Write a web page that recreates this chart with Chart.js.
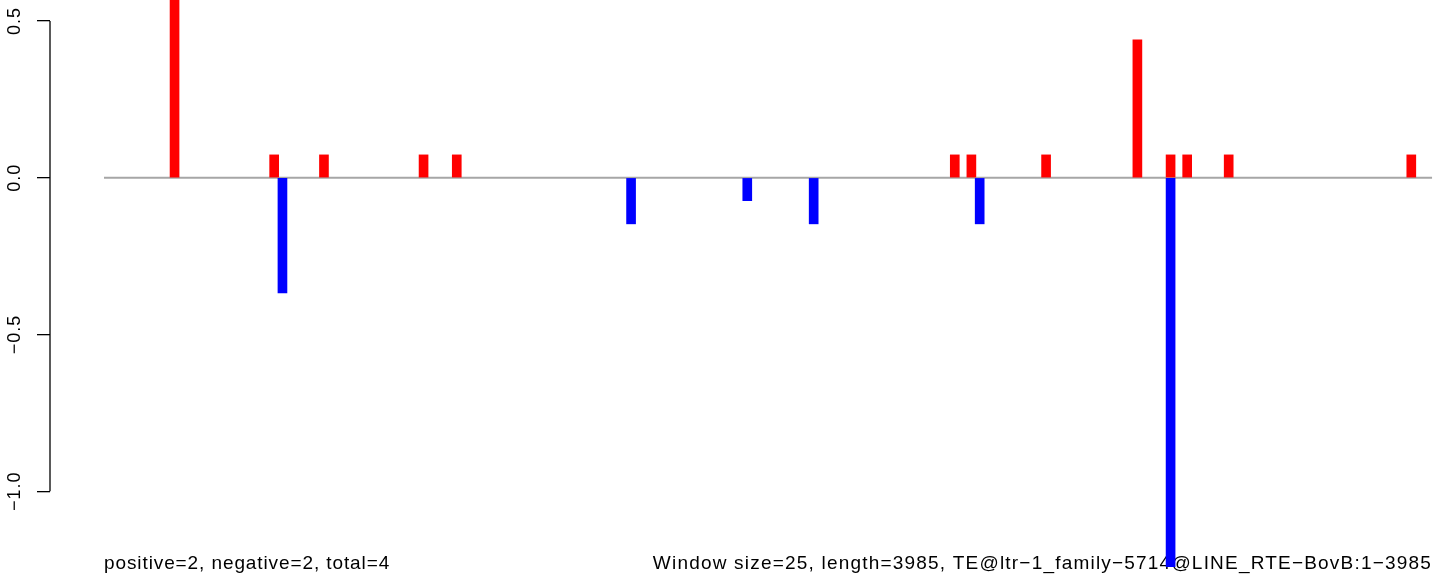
<!DOCTYPE html>
<html>
<head>
<meta charset="utf-8">
<script src="https://cdn.jsdelivr.net/npm/chart.js@4.4.1/dist/chart.umd.min.js"></script>
<style>
  html, body { margin: 0; padding: 0; background: #fff; }
  #plot { display: block; }
</style>
</head>
<body>
<canvas id="plot" width="1444" height="580"></canvas>
<script>
// window index (1-based, 25 bp windows) and signal
const posWindows = [9, 21, 27, 39, 43, 103, 105, 114, 125, 129, 131, 136, 158];
const posValues = [0.6, 0.073, 0.073, 0.073, 0.073, 0.073, 0.073, 0.073, 0.44, 0.073, 0.073, 0.073, 0.073];
const negWindows = [22, 64, 78, 86, 106, 129];
const negValues = [-0.367, -0.147, -0.073, -0.147, -0.147, -1.32];
const yTicks = [-1.0, -0.5, 0.0, 0.5];
const nWindows = 160;
const leftNote = 'positive=2, negative=2, total=4';
const rightNote = 'Window size=25, length=3985, TE@ltr\u22121_family\u22125714@LINE_RTE\u2212BovB:1\u22123985';

const FONT = '"Liberation Sans", Arial, Helvetica, sans-serif';

function fmt(v) {
  const s = Math.abs(v).toFixed(1);
  return v < 0 ? '\u2212' + s : s;
}

// axis line (only between outer ticks), rotated tick labels, footer notes
const rStyle = {
  id: 'rStyle',
  beforeDatasetsDraw(chart) {
    const ctx = chart.ctx;
    const x = chart.scales.x;
    ctx.save();
    ctx.fillStyle = '#000';
    ctx.font = '19px ' + FONT;
    ctx.textBaseline = 'alphabetic';
    ctx.letterSpacing = '0.9px';
    ctx.textAlign = 'left';
    ctx.fillText(leftNote, x.getPixelForValue(0.5), 569);
    ctx.letterSpacing = '1.2px';
    ctx.textAlign = 'right';
    ctx.fillText(rightNote, x.getPixelForValue(nWindows + 0.5), 569);
    ctx.restore();
  },
  afterDraw(chart) {
    const ctx = chart.ctx;
    const y = chart.scales.y;
    const left = chart.chartArea.left;
    ctx.save();
    ctx.strokeStyle = '#000';
    ctx.lineWidth = 1.3;
    ctx.beginPath();
    ctx.moveTo(left, y.getPixelForValue(yTicks[0]));
    ctx.lineTo(left, y.getPixelForValue(yTicks[yTicks.length - 1]));
    ctx.stroke();
    ctx.fillStyle = '#000';
    ctx.font = '18px ' + FONT;
    ctx.letterSpacing = '1px';
    ctx.textAlign = 'center';
    ctx.textBaseline = 'middle';
    yTicks.forEach(v => {
      ctx.save();
      ctx.translate(15, y.getPixelForValue(v));
      ctx.rotate(-Math.PI / 2);
      ctx.fillText(fmt(v), 0, 0);
      ctx.restore();
    });
    ctx.restore();
  }
};

new Chart(document.getElementById('plot'), {
  data: {
    datasets: [
      {
        type: 'line',
        data: [{ x: 0.5, y: 0 }, { x: nWindows + 0.5, y: 0 }],
        borderColor: '#a6a6a6',
        borderWidth: 2,
        pointRadius: 0,
        order: 3,
      },
      {
        type: 'bar',
        data: posWindows.map((w, i) => ({ x: w, y: posValues[i] })),
        backgroundColor: '#ff0000',
        barThickness: 9,
        grouped: false,
        order: 1,
      },
      {
        type: 'bar',
        data: negWindows.map((w, i) => ({ x: w, y: negValues[i] })),
        backgroundColor: '#0000ff',
        barThickness: 9,
        grouped: false,
        order: 1,
      },
    ],
  },
  options: {
    responsive: false,
    animation: false,
    devicePixelRatio: 1,
    layout: { padding: { left: 0, right: 0, top: 0, bottom: 13 } },
    plugins: { legend: { display: false }, tooltip: { enabled: false } },
    scales: {
      x: {
        type: 'linear',
        display: false,
        offset: false,
        min: -6.006,
        max: 161.94,
      },
      y: {
        type: 'linear',
        min: -1.2415,
        max: 0.567,
        afterBuildTicks: s => { s.ticks = yTicks.map(v => ({ value: v })); },
        afterFit: s => { s.width = 50; },
        border: { display: false },
        grid: { drawOnChartArea: false, drawTicks: true, tickLength: 13, color: '#000', lineWidth: 1.3 },
        ticks: { display: false },
      },
    },
  },
  plugins: [rStyle],
});
</script>
</body>
</html>
